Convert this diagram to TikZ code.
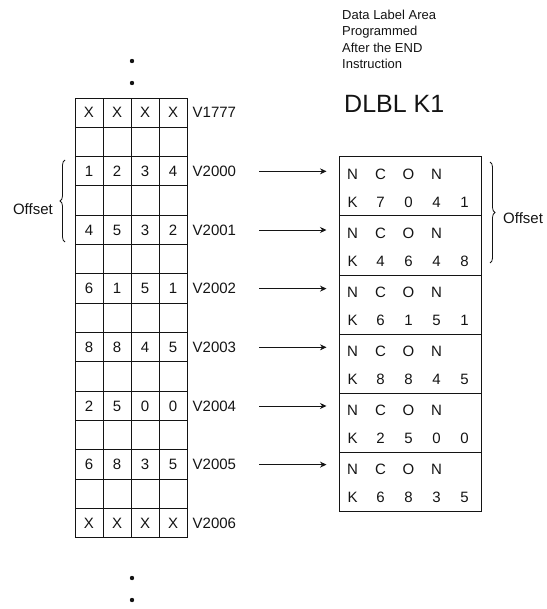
\documentclass[tikz,border=0pt]{standalone}
\usepackage{fontspec}
\setmainfont{Liberation Sans}
\usetikzlibrary{arrows.meta,calc,decorations.pathreplacing}
\definecolor{ink}{HTML}{141414}
\tikzset{
  cell/.style={
    draw=ink,
    line width=1pt,
    minimum width=28pt,
    minimum height=29.33pt,
    inner sep=0pt
  },
  celltext/.style={
    font=\fontsize{15}{17}\selectfont,
    text=ink,
    inner sep=0pt
  },
  addr/.style={
    celltext,
    anchor=west
  },
  labelbox/.style={
    draw=ink,
    line width=1pt,
    minimum width=142pt,
    minimum height=59pt,
    inner sep=0pt
  },
  headtext/.style={
    font=\fontsize{13}{16.5}\selectfont,
    text=ink,
    inner sep=0pt,
    align=left
  },
  arrow/.style={
    -{Stealth[length=6.5pt,width=6pt]},
    draw=ink,
    line width=0.9pt
  },
  offsetbrace/.style={
    decorate,
    decoration={brace, amplitude=5pt},
    draw=ink,
    line width=0.8pt
  }
}

\begin{document}
\begin{tikzpicture}[x=1pt,y=-1pt]
  \useasboundingbox (0,0) rectangle (546,609);

  % V-memory column
  \foreach \r in {1,3,...,13}
    \foreach \c in {1,...,4}
      \node[cell] (c-\r-\c) at ({61+28*\c},{112.67+29.33*\r}) {};
  \foreach \r/\digits/\v in {0/{X,X,X,X}/V1777, 2/{1,2,3,4}/V2000,
      4/{4,5,3,2}/V2001, 6/{6,1,5,1}/V2002, 8/{8,8,4,5}/V2003,
      10/{2,5,0,0}/V2004, 12/{6,8,3,5}/V2005, 14/{X,X,X,X}/V2006} {
    \foreach \t [count=\c] in \digits
      \node[cell, celltext] (c-\r-\c) at ({61+28*\c},{112.67+29.33*\r}) {\t};
    \node[addr] (a-\r) at ([xshift=5pt]c-\r-4.east) {\v};
  }

  \foreach \y in {61,83,578,600}
    \fill[ink] (132,\y) circle (2.2pt);

  % data label area
  \node[headtext, anchor=north west] (head) at (342,9.5)
    {Data Label Area\\Programmed\\After the END\\Instruction};
  \node[font=\fontsize{25}{30}\selectfont, text=ink, inner sep=0pt,
    anchor=base west] (dlbl) at (344,113) {DLBL K1};

  \foreach \b in {1,...,6}
    \node[labelbox] (dl\b) at (410,{186.5+59*(\b-1)}) {};
  \foreach \b/\digits in {1/{7,0,4,1}, 2/{4,6,4,8}, 3/{6,1,5,1},
      4/{8,8,4,5}, 5/{2,5,0,0}, 6/{6,8,3,5}} {
    \foreach \t [count=\c] in {N,C,O,N}
      \node[celltext] (n-\b-\c) at ($(dl\b.north west)+({14+28*(\c-1)},18)$) {\t};
    \node[celltext] (k-\b-0) at ($(dl\b.north west)+(14,46)$) {K};
    \foreach \t [count=\c] in \digits
      \node[celltext] (k-\b-\c) at ($(dl\b.north west)+({14+28*\c},46)$) {\t};
  }

  \foreach \r/\b in {2/1, 4/2, 6/3, 8/4, 10/5, 12/6}
    \draw[arrow, shorten <=23pt, shorten >=12pt] (a-\r.east) -- (a-\r.east -| dl\b.west);

  % offset braces
  \coordinate (lb-top) at (65,160);
  \coordinate (lb-bot) at (65,242);
  \draw[offsetbrace] (lb-bot) -- (lb-top);
  \node[celltext, anchor=east] (offl) at (53,209) {Offset};

  \coordinate (rb-top) at (490,162);
  \coordinate (rb-bot) at (490,263);
  \draw[offsetbrace] (rb-top) -- (rb-bot);
  \node[celltext, anchor=west] (offr) at (503,218) {Offset};
\end{tikzpicture}
\end{document}
